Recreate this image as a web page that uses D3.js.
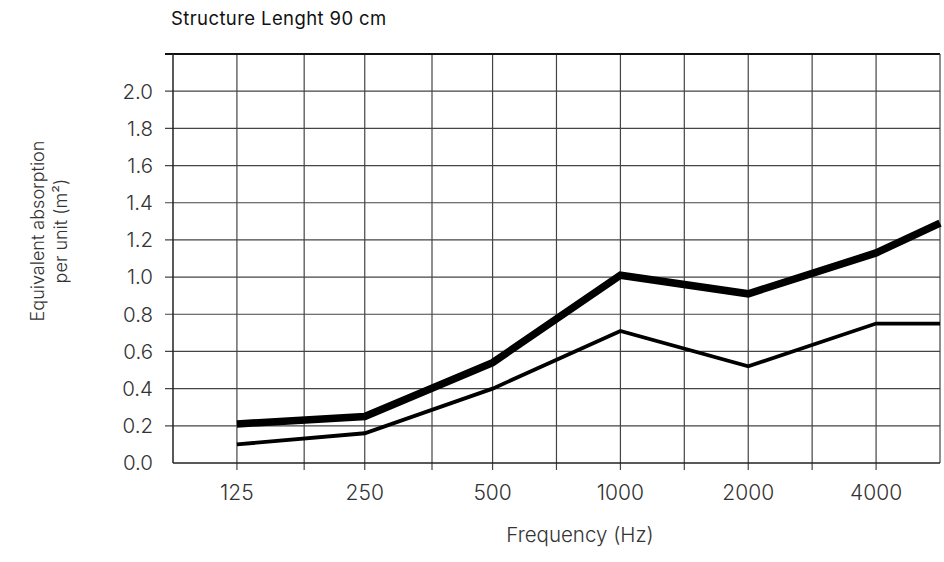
<!DOCTYPE html>
<html><head><meta charset="utf-8">
<script src="https://cdn.jsdelivr.net/npm/d3@7"></script>
<style>
body{margin:0;background:#fff;}
svg{display:block;}
</style></head>
<body>
<script>
const title = "Structure Lenght 90 cm";
const yTitle = ["Equivalent absorption", "per unit (m²)"];
const xTitle = "Frequency (Hz)";
const freqLabels = ["125","250","500","1000","2000","4000"];
// x positions (Hz) of points; last point sits at the right edge of the chart
const freqs = [125, 250, 500, 1000, 2000, 4000, 5657];
const minorFreqs = [180, 360, 707, 1414, 2828];
const thickSeries = [0.21, 0.25, 0.54, 1.01, 0.91, 1.13, 1.29];
const thinSeries  = [0.10, 0.16, 0.40, 0.71, 0.52, 0.75, 0.75];
const yTicks = [0.0,0.2,0.4,0.6,0.8,1.0,1.2,1.4,1.6,1.8,2.0];

const W=944,H=562;
const m={l:173,r:940,t:54,b:463};
const svg=d3.select("body").append("svg").attr("width",W).attr("height",H);
const x=d3.scaleLog().base(2).domain([125/Math.SQRT2, 4000*Math.SQRT2]).range([m.l,m.r]);
const y=d3.scaleLinear().domain([0,2.2]).range([m.b,m.t]);
const font="Inter, 'Liberation Sans', sans-serif";

// horizontal grid + ticks
svg.append("g").selectAll("line").data(yTicks.slice(1)).join("line")
 .attr("x1",m.l-8).attr("x2",m.r).attr("y1",d=>y(d)).attr("y2",d=>y(d))
 .attr("stroke","#444").attr("stroke-width",1.2);
// vertical grid
const vAll=freqLabels.map(Number).concat(minorFreqs);
svg.append("g").selectAll("line").data(vAll).join("line")
 .attr("x1",d=>x(d)).attr("x2",d=>x(d)).attr("y1",m.t).attr("y2",m.b+7)
 .attr("stroke","#444").attr("stroke-width",1.2);
// top line
svg.append("line").attr("x1",m.l-8).attr("x2",m.r).attr("y1",m.t).attr("y2",m.t)
 .attr("stroke","#111").attr("stroke-width",2);
// left axis
svg.append("line").attr("x1",m.l).attr("x2",m.l).attr("y1",m.t).attr("y2",m.b)
 .attr("stroke","#222").attr("stroke-width",1.5);
// right edge
svg.append("line").attr("x1",m.r).attr("x2",m.r).attr("y1",m.t).attr("y2",m.b)
 .attr("stroke","#444").attr("stroke-width",1.2);
// bottom axis
svg.append("line").attr("x1",m.l).attr("x2",m.r).attr("y1",m.b).attr("y2",m.b)
 .attr("stroke","#222").attr("stroke-width",1.5);

// y labels
svg.append("g").selectAll("text").data(yTicks).join("text")
 .attr("x",m.l-20).attr("y",d=>y(d)).attr("dy","0.36em").attr("text-anchor","end")
 .attr("font-family",font).attr("font-weight",300).attr("font-size",20.5).attr("fill","#333")
 .text(d=>d.toFixed(1));
// x labels
svg.append("g").selectAll("text").data(freqLabels).join("text")
 .attr("x",d=>x(+d)).attr("y",500).attr("text-anchor","middle")
 .attr("font-family",font).attr("font-weight",300).attr("font-size",21).attr("fill","#333")
 .text(d=>d);

// lines
const line=d3.line().x((d,i)=>x(freqs[i])).y(d=>y(d));
svg.append("path").datum(thinSeries).attr("d",line).attr("fill","none")
 .attr("stroke","#000").attr("stroke-width",3.8).attr("stroke-linejoin","miter");
svg.append("path").datum(thickSeries).attr("d",line).attr("fill","none")
 .attr("stroke","#000").attr("stroke-width",7.5).attr("stroke-linejoin","miter");

// titles
svg.append("text").attr("x",171).attr("y",25).attr("font-family",font).attr("font-size",18.5)
 .attr("letter-spacing",0.4).attr("fill","#111").text(title);
svg.append("text").attr("x",580).attr("y",542).attr("text-anchor","middle")
 .attr("font-family",font).attr("font-weight",300).attr("font-size",20.5).attr("fill","#333").text(xTitle);
const yt=svg.append("text").attr("transform","translate(44,231) rotate(-90)").attr("text-anchor","middle")
 .attr("font-family",font).attr("font-weight",300).attr("font-size",18).attr("fill","#333");
yt.append("tspan").attr("x",0).attr("y",0).text(yTitle[0]);
yt.append("tspan").attr("x",0).attr("y",23).text(yTitle[1]);
</script>
</body></html>
